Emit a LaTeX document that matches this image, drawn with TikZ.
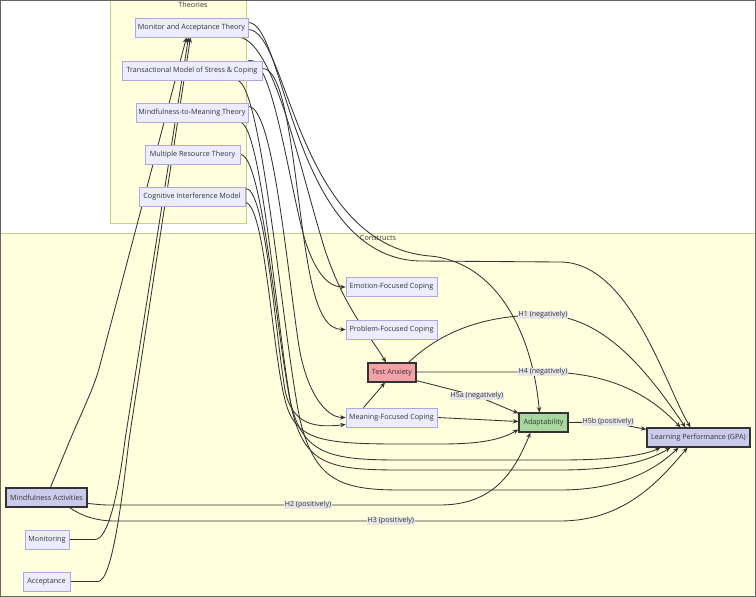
\documentclass[tikz,border=0pt]{standalone}
\usepackage{fontspec}
\setmainfont{Open Sans}
\usetikzlibrary{arrows.meta,calc}
\definecolor{nodefill}{HTML}{ECECFF}
\definecolor{nodedraw}{HTML}{B3A5DE}
\definecolor{darkfill}{HTML}{CACAEC}
\definecolor{txt}{HTML}{333333}
\definecolor{clusterfill}{HTML}{FFFFDE}
\definecolor{clusterdraw}{HTML}{CDCD88}
\definecolor{redfill}{HTML}{F4A2A8}
\definecolor{greenfill}{HTML}{A9D7A0}
\definecolor{lblfill}{HTML}{E6E6E6}
\definecolor{frame}{HTML}{666666}
\pgfdeclarelayer{bg}
\pgfdeclarelayer{edges}
\pgfsetlayers{bg,edges,main}
\begin{document}
\begin{tikzpicture}[x=1pt,y=-1pt,
  box/.style={draw=nodedraw, fill=nodefill, line width=0.7pt, minimum height=19pt, inner sep=0pt, font=\fontsize{7.2}{8}\selectfont, text=txt},
  hl/.style={box, draw=txt, line width=1.2pt},
  ed/.style={draw=txt, line width=0.85pt, -{Stealth[length=5.5pt,width=4.5pt]}},
  lbl/.style={fill=lblfill, inner sep=0.8pt, font=\fontsize{7.1}{8}\selectfont, text=txt},
  clab/.style={font=\fontsize{7.2}{8}\selectfont, text=txt, inner sep=0pt}
]
\useasboundingbox (0,0) rectangle (756,597);
\begin{pgfonlayer}{bg}
  \fill[white] (0,0) rectangle (756,597);
  \draw[clusterdraw, fill=clusterfill, line width=0.7pt] (110.5,0.5) rectangle (246,223);
  \draw[clusterdraw, fill=clusterfill, line width=0.7pt] (0.5,233) rectangle (755.5,596.5);
  \draw[frame, line width=1.2pt] (0.6,0.6) rectangle (755.4,596.4);
\end{pgfonlayer}
\node[clab] (theories) at (193,5) {Theories};
\node[clab] (constructs) at (378,238) {Constructs};

\node[box, minimum width=113pt] (mat) at (191.5,27.5) {Monitor and Acceptance Theory};
\node[box, minimum width=140pt] (tmsc) at (192,70.5) {Transactional Model of Stress \& Coping};
\node[box, minimum width=112pt] (mmt) at (192,112.5) {Mindfulness-to-Meaning Theory};
\node[box, minimum width=95pt] (mrt) at (192.5,154.5) {Multiple Resource Theory};
\node[box, minimum width=106pt] (cim) at (192,196.5) {Cognitive Interference Model};
\node[box, minimum width=91pt] (efc) at (391.5,287) {Emotion-Focused Coping};
\node[box, minimum width=91pt] (pfc) at (391.5,329.5) {Problem-Focused Coping};
\node[hl, fill=redfill, minimum width=48pt] (ta) at (392,372.5) {Test Anxiety};
\node[box, minimum width=91pt] (mfc) at (391.5,417.5) {Meaning-Focused Coping};
\node[hl, fill=greenfill, minimum width=49pt] (ad) at (543.5,422.5) {Adaptability};
\node[hl, fill=darkfill, minimum width=103pt] (lp) at (698.5,437.5) {Learning Performance (GPA)};
\node[hl, fill=darkfill, minimum width=81pt] (ma) at (46.5,497.5) {Mindfulness Activities};
\node[box, minimum width=44pt] (mon) at (47,539.5) {Monitoring};
\node[box, minimum width=47pt] (acc) at (46.5,581.5) {Acceptance};

\begin{pgfonlayer}{edges}
  % inputs to Monitor and Acceptance Theory
  \draw[ed] (mon.east) -- (95,539.5) .. controls (108,539.5) and (118,495) .. (125,440) -- ($(mat.south)+(-3,0)$);
  \draw[ed] (acc.east) -- (98,581.5) .. controls (112,581.5) and (122,500) .. (129,440) -- ($(mat.south)+(-1,0)$);
  \draw[ed] ($(ma.north)+(4,0)$) -- (70,440) .. controls (85,405) and (95,385) .. (100,365) -- ($(mat.south)+(-5,0)$);
  % theories to constructs
  \draw[ed] ($(mat.east)+(0,-5)$) .. controls (285,22) and (292,258) .. (420,261) -- (560,262) .. controls (630,262) and (665,385) .. ($(lp.north)+(-8,0)$);
  \draw[ed] ($(mat.east)+(0,2)$) .. controls (288,30) and (296,245) .. (430,256) .. controls (495,262) and (532,330) .. ($(ad.north)+(-4,0)$);
  \draw[ed] ($(mat.south east)+(-8,0)$) .. controls (275,45) and (300,170) .. (325,250) .. controls (345,310) and (370,335) .. ($(ta.north)+(-6,0)$);
  \draw[ed] ($(tmsc.north east)+(-14,0)$) .. controls (272,52) and (290,190) .. (305,240) .. controls (315,272) and (328,287) .. (efc.west);
  \draw[ed] ($(tmsc.east)+(0,-2)$) .. controls (290,68) and (295,200) .. (310,275) .. controls (318,315) and (328,329.5) .. (pfc.west);
  \draw[ed] ($(tmsc.south east)+(-25,0)$) .. controls (262,85) and (282,330) .. (300,420) .. controls (315,480) and (340,490) .. (400,490) -- (560,490) .. controls (620,490) and (655,470) .. ($(lp.south)+(-20,0)$);
  \draw[ed] ($(mmt.east)+(0,-6)$) .. controls (272,106) and (285,250) .. (298,340) .. controls (305,390) and (325,417.5) .. (mfc.west);
  \draw[ed] ($(mmt.south east)+(-8,0)$) .. controls (262,125) and (278,340) .. (292,410) .. controls (305,465) and (330,470) .. (400,470) -- (560,470) .. controls (620,470) and (650,460) .. ($(lp.south)+(-28,0)$);
  \draw[ed] (mrt.east) .. controls (262,154) and (276,330) .. (290,400) .. controls (302,455) and (330,460) .. (400,460) -- (560,460) .. controls (615,460) and (645,455) .. ($(lp.south)+(-38,0)$);
  \draw[ed] ($(cim.east)+(0,-8)$) .. controls (265,186) and (275,330) .. (285,390) .. controls (292,425) and (315,428) .. ($(mfc.west)+(0,7)$);
  \draw[ed] ($(cim.east)+(0,6)$) .. controls (265,204) and (272,350) .. (285,400) .. controls (295,440) and (320,444) .. (400,444) -- (440,444) .. controls (480,444) and (500,440) .. ($(ad.west)+(0,7)$);
  % construct relations
  \draw[ed] ($(mfc.north)+(-28,0)$) -- ($(ta.south)+(-7,0)$);
  \draw[ed] (mfc.east) -- ($(ad.west)+(0,-1)$);
  \draw[ed] ($(ta.north east)+(-8,0)$) .. controls (445,328) and (490,315) .. (543,315) node[lbl] (h1) {H1 (negatively)} .. controls (605,315) and (650,375) .. ($(lp.north)+(-13,0)$);
  \draw[ed] ($(ta.east)+(0,-0.5)$) -- (543,372) node[lbl] (h4) {H4 (negatively)} .. controls (610,372) and (650,395) .. ($(lp.north)+(-18,0)$);
  \draw[ed] ($(ta.south east)+(0,-2)$) -- (477,396) node[lbl] (h5a) {H5a (negatively)} -- ($(ad.north west)+(0,1)$);
  \draw[ed] (ad.east) -- (608,422) node[lbl] (h5b) {H5b (positively)} -- ($(lp.north west)+(0,2)$);
  \draw[ed] ($(ma.east)+(0,6)$) .. controls (95,504) and (100,505) .. (110,505) -- node[lbl,pos=0.6] (h2) {H2 (positively)} (440,505) .. controls (495,505) and (515,470) .. ($(ad.south)+(-13,0)$);
  \draw[ed] ($(ma.south east)+(-18,0)$) .. controls (80,515) and (95,521) .. (115,521) -- node[lbl,pos=0.62] (h3) {H3 (positively)} (560,521) .. controls (625,521) and (660,480) .. ($(lp.south)+(-11,0)$);
\end{pgfonlayer}
\end{tikzpicture}
\end{document}
